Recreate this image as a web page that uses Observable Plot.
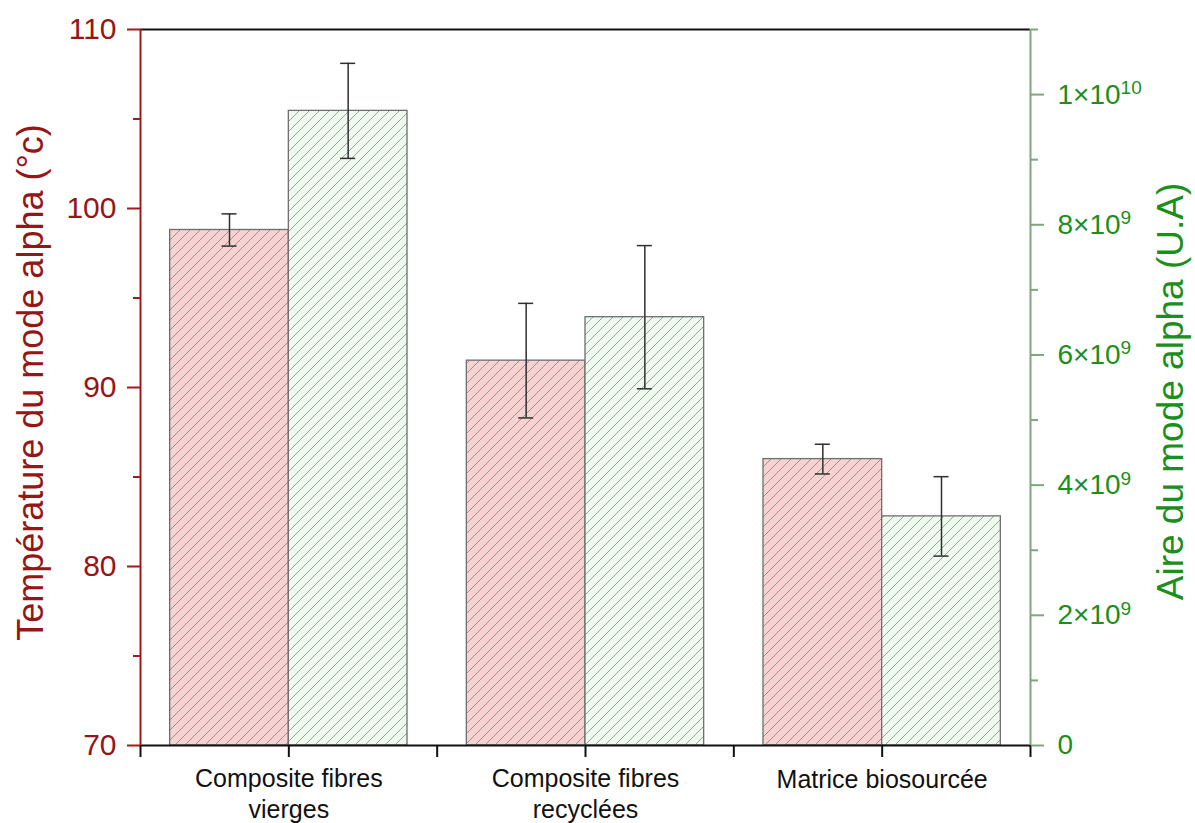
<!DOCTYPE html>
<html>
<head>
<meta charset="utf-8">
<script src="https://cdn.jsdelivr.net/npm/d3@7"></script>
<script src="https://cdn.jsdelivr.net/npm/@observablehq/plot@0.6"></script>
<style>
  html, body { margin: 0; padding: 0; background: #ffffff; }
  #chart svg { display: block; }
</style>
</head>
<body>
<div id="chart"></div>
<script>
// ---- data ----
const categories = ["Composite fibres\nvierges", "Composite fibres\nrecyclées", "Matrice biosourcée"];
const temperature = [98.8, 91.5, 86.0];          // °c (left axis)
const temperatureErr = [0.9, 3.2, 0.83];
const aire = [9.75e9, 6.58e9, 3.52e9];            // U.A (right axis)
const aireErr = [0.73e9, 1.1e9, 0.61e9];
const leftTicks = [70, 80, 90, 100, 110];
const leftMinorTicks = [75, 85, 95, 105];
const rightTicks = [0, 2e9, 4e9, 6e9, 8e9, 1e10];
const rightTickLabels = ["0", "2×10^9", "4×10^9", "6×10^9", "8×10^9", "1×10^10"];
const rightMinorTicks = [1e9, 3e9, 5e9, 7e9, 9e9, 1.1e10];
const leftTitle = "Température du mode alpha (°c)";
const rightTitle = "Aire du mode alpha (U.A)";

// ---- scales mapping (right axis -> left axis units) ----
const leftDomain = [70, 110];
const rightDomain = [0, 1.1e10];
const toLeft = v => leftDomain[0] + (v - rightDomain[0]) / (rightDomain[1] - rightDomain[0]) * (leftDomain[1] - leftDomain[0]);

const RED = "#951616";
const RED_AXIS = "#a11b1b";
const GREEN = "#1b8f1b";
const GREEN_AXIS = "#7ea67e";
const FONT = "'Liberation Sans', Arial, Helvetica, sans-serif";

const barW = 0.4;
const capW = 0.0253;
const rows = categories.map((c, i) => ({
  c, i,
  t: temperature[i], te: temperatureErr[i],
  a: toLeft(aire[i]), aLo: toLeft(aire[i] - aireErr[i]), aHi: toLeft(aire[i] + aireErr[i])
}));
const xTicks = [0, 0.5, 1, 1.5, 2, 2.5, 3];

const svg = Plot.plot({
  width: 1195,
  height: 823,
  marginLeft: 140,
  marginRight: 165,
  marginTop: 29,
  marginBottom: 78,
  style: { fontFamily: FONT, background: "#ffffff", overflow: "visible" },
  x: { domain: [0, 3] },
  y: { domain: leftDomain },
  marks: [
    // red bars (temperature)
    Plot.rectY(rows, {
      x1: d => d.i + 0.5 - barW, x2: d => d.i + 0.5,
      y1: d => leftDomain[0], y2: d => d.t,
      fill: "url(#hatchRed)", stroke: "#6e6e6e", strokeWidth: 1.3
    }),
    // green bars (aire)
    Plot.rectY(rows, {
      x1: d => d.i + 0.5, x2: d => d.i + 0.5 + barW,
      y1: d => leftDomain[0], y2: d => d.a,
      fill: "url(#hatchGreen)", stroke: "#6e6e6e", strokeWidth: 1.3
    }),
    // error bars red
    Plot.ruleX(rows, { x: d => d.i + 0.5 - barW / 2, y1: d => d.t - d.te, y2: d => d.t + d.te, stroke: "#2f2f2f", strokeWidth: 1.5 }),
    Plot.ruleY(rows, { y: d => d.t + d.te, x1: d => d.i + 0.5 - barW / 2 - capW, x2: d => d.i + 0.5 - barW / 2 + capW, stroke: "#2f2f2f", strokeWidth: 1.5 }),
    Plot.ruleY(rows, { y: d => d.t - d.te, x1: d => d.i + 0.5 - barW / 2 - capW, x2: d => d.i + 0.5 - barW / 2 + capW, stroke: "#2f2f2f", strokeWidth: 1.5 }),
    // error bars green
    Plot.ruleX(rows, { x: d => d.i + 0.5 + barW / 2, y1: d => d.aLo, y2: d => d.aHi, stroke: "#2f2f2f", strokeWidth: 1.5 }),
    Plot.ruleY(rows, { y: d => d.aHi, x1: d => d.i + 0.5 + barW / 2 - capW, x2: d => d.i + 0.5 + barW / 2 + capW, stroke: "#2f2f2f", strokeWidth: 1.5 }),
    Plot.ruleY(rows, { y: d => d.aLo, x1: d => d.i + 0.5 + barW / 2 - capW, x2: d => d.i + 0.5 + barW / 2 + capW, stroke: "#2f2f2f", strokeWidth: 1.5 }),

    // frame lines
    Plot.ruleY([leftDomain[1]], { stroke: "#111111", strokeWidth: 2 }),
    Plot.ruleY([leftDomain[0]], { stroke: "#111111", strokeWidth: 2 }),
    Plot.ruleX([0], { stroke: RED_AXIS, strokeWidth: 2 }),
    Plot.ruleX([3], { stroke: GREEN_AXIS, strokeWidth: 2 }),

    // x axis ticks
    Plot.axisX({ ticks: xTicks, tickSize: 12, tickFormat: () => "", stroke: "#111111", strokeWidth: 2, label: null }),
    Plot.text(rows.filter(d => d.c.includes("\n")), {
      x: d => d.i + 0.5, frameAnchor: "bottom", text: d => d.c, textAnchor: "middle",
      lineAnchor: "top", dy: 20, fontSize: 25, lineHeight: 1.22, fill: "#111111"
    }),
    Plot.text(rows.filter(d => !d.c.includes("\n")), {
      x: d => d.i + 0.5, frameAnchor: "bottom", text: d => d.c, textAnchor: "middle",
      lineAnchor: "top", dy: 25, fontSize: 25, fill: "#111111"
    }),

    // left axis
    Plot.axisY({ ticks: leftTicks, anchor: "left", tickSize: 13, tickPadding: 11,
      stroke: RED_AXIS, fill: RED, color: RED, strokeWidth: 2, label: null }),
    Plot.axisY({ ticks: leftMinorTicks, anchor: "left", tickSize: 7, tickFormat: () => "",
      stroke: RED_AXIS, strokeWidth: 2, label: null }),

    // right axis
    Plot.axisY({ ticks: rightTicks.map(toLeft), anchor: "right", tickSize: 13, tickPadding: 14,
      tickFormat: d => rightTickLabels[rightTicks.findIndex(v => Math.abs(toLeft(v) - d) < 1e-6)],
      stroke: GREEN_AXIS, fill: GREEN, color: GREEN, strokeWidth: 2, label: null }),
    Plot.axisY({ ticks: rightMinorTicks.map(toLeft), anchor: "right", tickSize: 7, tickFormat: () => "",
      stroke: GREEN_AXIS, strokeWidth: 2, label: null }),

    // axis titles
    Plot.text([leftTitle], { frameAnchor: "left", rotate: -90, textAnchor: "middle", lineAnchor: "middle",
      dx: -109, dy: -5, fontSize: 36, fill: RED, text: d => d }),
    Plot.text([rightTitle], { frameAnchor: "right", rotate: -90, textAnchor: "middle", lineAnchor: "middle",
      dx: 141, dy: 4, fontSize: 37, fill: GREEN, text: d => d })
  ]
});

// hatch patterns
const s = d3.select(svg);
const defs = s.insert("defs", ":first-child");
function hatch(id, bg, line) {
  const n = 10;
  const p = defs.append("pattern").attr("id", id)
    .attr("patternUnits", "userSpaceOnUse").attr("width", n).attr("height", n);
  p.append("rect").attr("width", n).attr("height", n).attr("fill", bg);
  p.append("path").attr("d", `M-1,1 L1,-1 M0,${n} L${n},0 M${n - 1},${n + 1} L${n + 1},${n - 1}`)
    .attr("stroke", line).attr("stroke-width", 1).attr("fill", "none");
}
hatch("hatchRed", "#f9d1d1", "#939393");
hatch("hatchGreen", "#eefaee", "#9aa09a");

// tick label font sizes (left: 30px, right: 28px)
s.selectAll('g[aria-label="y-axis tick label"]').each(function () {
  const g = d3.select(this);
  const anchor = g.attr("text-anchor");
  g.style("font-size", anchor === "start" ? "28px" : "30px");
  g.attr("font-size", anchor === "start" ? 28 : 30);
});

// superscripts on right axis labels
s.selectAll("text").each(function () {
  const t = this.textContent;
  if (t && t.includes("^") && this.children.length === 0) {
    const [b, e] = t.split("^");
    this.textContent = "";
    const sel = d3.select(this);
    sel.append("tspan").text(b);
    sel.append("tspan").attr("dy", "-0.5em").attr("font-size", "0.68em").text(e);
  }
});

document.getElementById("chart").appendChild(svg);
</script>
</body>
</html>
